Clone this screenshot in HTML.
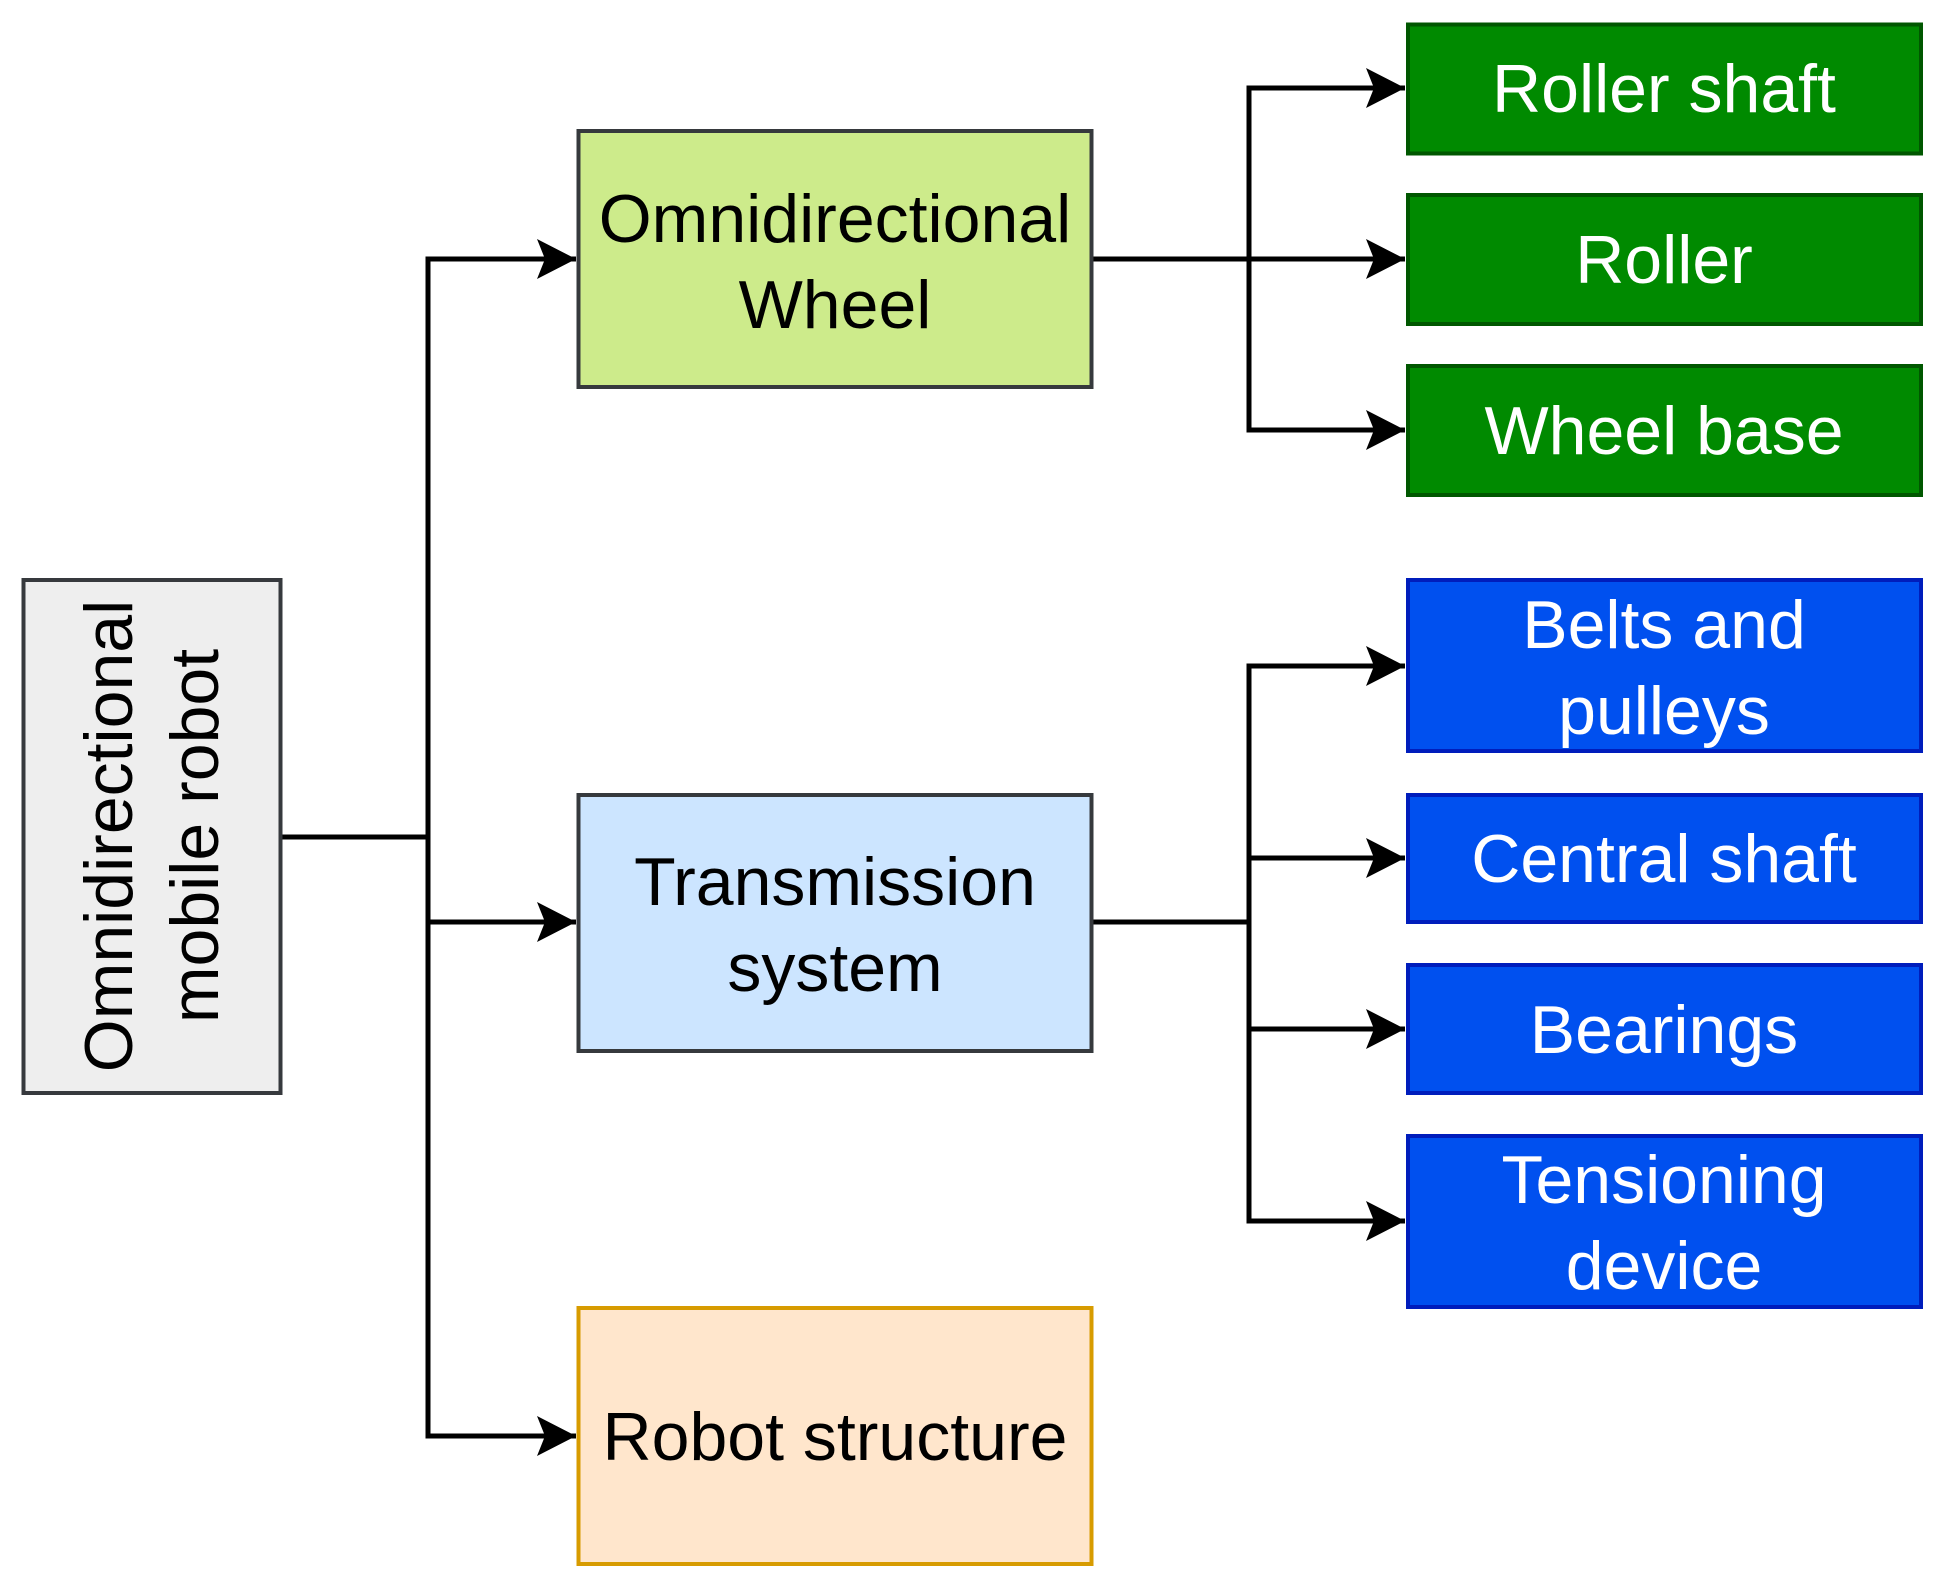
<!DOCTYPE html>
<html><head><meta charset="utf-8"><style>
html,body{margin:0;padding:0;background:#fff;}
svg{display:block;}
text{font-family:"Liberation Sans",Arial,sans-serif;font-size:68px;text-anchor:middle;}
</style></head><body>
<svg width="1941" height="1577" viewBox="0 0 1941 1577" xmlns="http://www.w3.org/2000/svg">
<defs>
<marker id="a" markerUnits="userSpaceOnUse" markerWidth="42" markerHeight="42" refX="39" refY="21" orient="auto">
<path d="M0,1 L39,21 L0,41 L8,21 Z" fill="#000"/>
</marker>
</defs>
<g fill="none" stroke="#000" stroke-width="5" stroke-linejoin="miter">
<path d="M282,837 H428"/>
<path d="M428,1436 V259 H576" marker-end="url(#a)"/>
<path d="M428,922 H576" marker-end="url(#a)"/>
<path d="M428,1436 H576" marker-end="url(#a)"/>
<path d="M1092,259 H1249"/>
<path d="M1249,430 V88 H1405" marker-end="url(#a)"/>
<path d="M1249,259 H1405" marker-end="url(#a)"/>
<path d="M1249,430 H1405" marker-end="url(#a)"/>
<path d="M1092,922 H1249"/>
<path d="M1249,1221 V666 H1405" marker-end="url(#a)"/>
<path d="M1249,858 H1405" marker-end="url(#a)"/>
<path d="M1249,1029 H1405" marker-end="url(#a)"/>
<path d="M1249,1221 H1405" marker-end="url(#a)"/>
<path d="M428,1436 V1436" stroke-linecap="square"/>
<path d="M1249,430 V430" stroke-linecap="square"/>
<path d="M1249,1221 V1221" stroke-linecap="square"/>
</g>
<g stroke-width="4">
<rect x="23.5" y="580" width="257" height="513" fill="#eeeeee" stroke="#36393d"/>
<rect x="578.5" y="131" width="513" height="256" fill="#cdeb8b" stroke="#36393d"/>
<rect x="578.5" y="795" width="513" height="256" fill="#cce5ff" stroke="#36393d"/>
<rect x="578.5" y="1308" width="513" height="256" fill="#ffe6cc" stroke="#d79b00"/>
<rect x="1408" y="24.5" width="513" height="129" fill="#008a00" stroke="#005700"/>
<rect x="1408" y="195" width="513" height="129" fill="#008a00" stroke="#005700"/>
<rect x="1408" y="366" width="513" height="129" fill="#008a00" stroke="#005700"/>
<rect x="1408" y="580" width="513" height="171" fill="#0050ef" stroke="#001dbc"/>
<rect x="1408" y="795" width="513" height="127" fill="#0050ef" stroke="#001dbc"/>
<rect x="1408" y="965" width="513" height="128" fill="#0050ef" stroke="#001dbc"/>
<rect x="1408" y="1136" width="513" height="171" fill="#0050ef" stroke="#001dbc"/>
</g>
<g transform="translate(152,836) rotate(-90)">
<text x="0" y="-20">Omnidirectional</text>
<text x="0" y="66">mobile robot</text>
</g>
<text x="835" y="242">Omnidirectional</text>
<text x="835" y="328">Wheel</text>
<text x="835" y="905">Transmission</text>
<text x="835" y="991">system</text>
<text x="835" y="1460">Robot structure</text>
<g fill="#fff">
<text x="1664" y="112">Roller shaft</text>
<text x="1664" y="283">Roller</text>
<text x="1664" y="454">Wheel base</text>
<text x="1664" y="648">Belts and</text>
<text x="1664" y="734">pulleys</text>
<text x="1664" y="882">Central shaft</text>
<text x="1664" y="1053">Bearings</text>
<text x="1664" y="1203">Tensioning</text>
<text x="1664" y="1289">device</text>
</g>
</svg>
</body></html>
